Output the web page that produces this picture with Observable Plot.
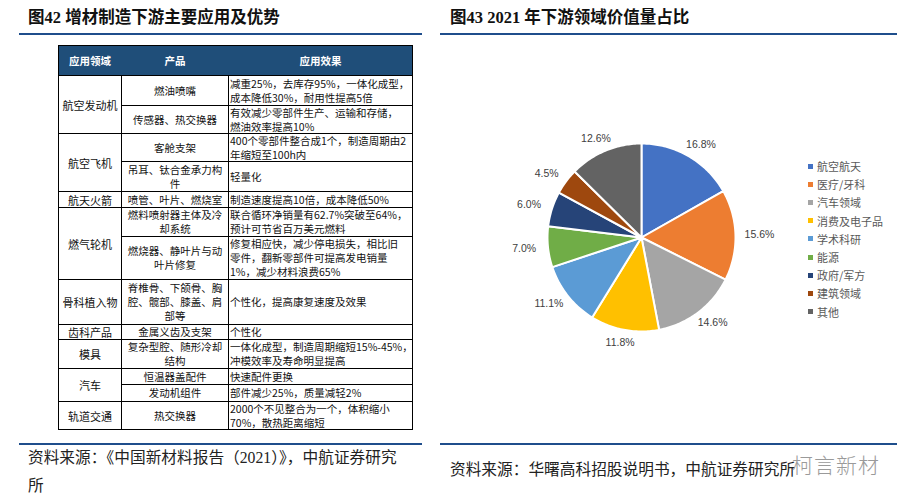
<!DOCTYPE html>
<html>
<head>
<meta charset="utf-8">
<script src="https://cdn.jsdelivr.net/npm/d3@7"></script>
<script src="https://cdn.jsdelivr.net/npm/@observablehq/plot@0.6"></script>
<style>
  html, body { margin: 0; padding: 0; background: #fff; }
  #page { position: relative; width: 907px; height: 503px; overflow: hidden; font-family: "Noto Sans CJK SC", sans-serif; }
  .title { position: absolute; top: 4px; font-family: "Liberation Serif", "Noto Sans CJK SC", serif; font-weight: bold; font-size: 16.5px; color: #111; white-space: nowrap; }
  .rule { position: absolute; height: 1.5px; background: #1f4e8c; }
  .source { position: absolute; font-family: "Liberation Serif", "Noto Sans CJK SC", serif; font-size: 15.7px; color: #222; line-height: 28px; white-space: nowrap; }
  .cell { position: absolute; box-sizing: border-box; border: 1px solid #000; display: flex; align-items: center; font-size: 10.5px; line-height: 14px; color: #111; white-space: pre; padding: 0 1px; overflow: visible; }
  .c { justify-content: center; text-align: center; }
  .l { justify-content: flex-start; text-align: left; }
  .hd { background: #1f4e79; color: #fff; font-weight: bold; border-color: #1f4e79; justify-content: center; border-right-color: #fff; }
  #legend { position: absolute; left: 808px; top: 157px; font-size: 11px; color: #595959; }
  #legend .item { height: 18.2px; display: flex; align-items: center; }
  #legend .sw { width: 5px; height: 5px; margin-right: 4px; }
  #wm { position: absolute; left: 792px; top: 449px; font-size: 21px; color: #9a9a9a; font-weight: 300; letter-spacing: 1px; }
  #plot { position: absolute; left: 450px; top: 40px; }
</style>
</head>
<body>
<div id="page"></div>
<script>
// ---------- data: table ----------
const tableHeaders = ["应用领域", "产品", "应用效果"];
const domains = ["航空发动机", "航空飞机", "航天火箭", "燃气轮机", "骨科植入物", "齿科产品", "模具", "汽车", "轨道交通"];
const domainRowSpans = [2, 2, 1, 2, 1, 1, 1, 2, 1];
const products = [
  "燃油喷嘴", "传感器、热交换器", "客舱支架", "吊耳、钛合金承力构\n件", "喷管、叶片、燃烧室",
  "燃料喷射器主体及冷\n却系统", "燃烧器、静叶片与动\n叶片修复", "脊椎骨、下颌骨、胸\n腔、髋部、膝盖、肩\n部等",
  "金属义齿及支架", "复杂型腔、随形冷却\n结构", "恒温器盖配件", "发动机组件", "热交换器"
];
const effects = [
  "减重25%，去库存95%，一体化成型，\n成本降低30%，耐用性提高5倍",
  "有效减少零部件生产、运输和存储，\n燃油效率提高10%",
  "400个零部件整合成1个，制造周期由2\n年缩短至100h内",
  "轻量化",
  "制造速度提高10倍，成本降低50%",
  "联合循环净销量有62.7%突破至64%，\n预计可节省百万美元燃料",
  "修复相应快，减少停电损失，相比旧\n零件，翻新零部件可提高发电销量\n1%，减少材料浪费65%",
  "个性化，提高康复速度及效果",
  "个性化",
  "一体化成型，制造周期缩短15%-45%，\n冲模效率及寿命明显提高",
  "快速配件更换",
  "部件减少25%，质量减轻2%",
  "2000个不见整合为一个，体积缩小\n70%，散热距离缩短"
];

// ---------- data: pie ----------
const categories = ["航空航天", "医疗/牙科", "汽车领域", "消费及电子品", "学术科研", "能源", "政府/军方", "建筑领域", "其他"];
const shares = [16.8, 15.6, 14.6, 11.8, 11.1, 7.0, 6.0, 4.5, 12.6];
const sliceColors = ["#4472c4", "#ed7d31", "#a5a5a5", "#ffc000", "#5b9bd5", "#70ad47", "#264478", "#9e480e", "#636363"];

// ---------- text ----------
const title42 = "图42  增材制造下游主要应用及优势";
const title43 = "图43  2021 年下游领域价值量占比";
const source42 = ["资料来源：《中国新材料报告（2021）》，中航证券研究", "所"];
const source43 = "资料来源：华曙高科招股说明书，中航证券研究所";
const watermark = "柯言新材";

const page = document.getElementById("page");
function add(tag, cls, style, text) {
  const el = document.createElement(tag);
  if (cls) el.className = cls;
  Object.assign(el.style, style);
  if (text != null) el.textContent = text;
  page.appendChild(el);
  return el;
}

// titles and rules
add("div", "title", {left: "28px"}, title42);
add("div", "title", {left: "450px"}, title43);
add("div", "rule", {left: "19px", top: "33px", width: "403px"});
add("div", "rule", {left: "440px", top: "33px", width: "457px"});
add("div", "rule", {left: "19px", top: "443px", width: "403px"});
add("div", "rule", {left: "440px", top: "443px", width: "457px"});
const s42 = add("div", "source", {left: "28px", top: "444px"});
s42.innerHTML = source42.join("<br>");
add("div", "source", {left: "450px", top: "456px"}, source43);
add("div", null, {}, watermark).id = "wm";

// ---------- table layout ----------
const colX = [58, 121, 228, 412];
const headerTop = 45, headerH = 30;
const rowH = [30, 28, 28, 30, 16, 29, 43, 45, 15, 29, 16, 17, 28];
const rowY = [headerTop + headerH];
rowH.forEach((h, i) => rowY.push(rowY[i] + h));

tableHeaders.forEach((t, c) => {
  add("div", "cell hd", {left: colX[c] + "px", top: headerTop + "px", width: (colX[c + 1] - colX[c] + 1) + "px", height: (headerH + 1) + "px"}, t);
});
let r = 0;
domains.forEach((d, i) => {
  const span = domainRowSpans[i];
  add("div", "cell c", {left: colX[0] + "px", top: rowY[r] + "px", width: (colX[1] - colX[0] + 1) + "px", height: (rowY[r + span] - rowY[r] + 1) + "px", fontSize: "11px"}, d);
  r += span;
});
products.forEach((p, i) => {
  add("div", "cell c", {left: colX[1] + "px", top: rowY[i] + "px", width: (colX[2] - colX[1] + 1) + "px", height: (rowY[i + 1] - rowY[i] + 1) + "px"}, p);
});
effects.forEach((e, i) => {
  add("div", "cell l", {left: colX[2] + "px", top: rowY[i] + "px", width: (colX[3] - colX[2] + 1) + "px", height: (rowY[i + 1] - rowY[i] + 1) + "px"}, e);
});
// outer border
add("div", null, {position: "absolute", left: colX[0] + "px", top: headerTop + "px", width: (colX[3] - colX[0] + 1) + "px", height: (rowY[rowY.length - 1] - headerTop + 1) + "px", border: "1.5px solid #000", boxSizing: "border-box", pointerEvents: "none"});

// ---------- pie with Plot ----------
const R = 94; // px per unit radius
const W = 457, H = 400, cx = 191, cy = 197;
const total = d3.sum(shares);
const slicePts = [];
const labelData = [];
let acc = 0;
shares.forEach((v, i) => {
  const a0 = acc / total * 2 * Math.PI;
  acc += v;
  const a1 = acc / total * 2 * Math.PI;
  const n = Math.max(2, Math.ceil((a1 - a0) / (Math.PI / 180)));
  slicePts.push({key: categories[i], x: 0, y: 0});
  for (let k = 0; k <= n; k++) {
    const a = a0 + (a1 - a0) * k / n;
    slicePts.push({key: categories[i], x: Math.sin(a), y: Math.cos(a)});
  }
  slicePts.push({key: categories[i], x: 0, y: 0});
  const am = (a0 + a1) / 2;
  labelData.push({
    x: Math.sin(am) * (R + 24) / R,
    y: Math.cos(am) * (R + 13) / R,
    label: v.toFixed(1) + "%"
  });
});

const chart = Plot.plot({
  width: W,
  height: H,
  margin: 0,
  x: {domain: [-cx / R, (W - cx) / R], axis: null},
  y: {domain: [-(H - cy) / R, cy / R], axis: null},
  color: {domain: categories, range: sliceColors},
  style: {background: "transparent", fontFamily: "Liberation Sans, Arial, sans-serif"},
  marks: [
    Plot.line(slicePts, {x: "x", y: "y", z: "key", fill: "key", stroke: "#fff", strokeWidth: 2, strokeLinejoin: "round"}),
    Plot.text(labelData, {x: "x", y: "y", text: "label", fontSize: 10.5, fill: "#404040"})
  ]
});
chart.id = "plot";
page.appendChild(chart);

// legend
const legend = document.createElement("div");
legend.id = "legend";
categories.forEach((c, i) => {
  const it = document.createElement("div");
  it.className = "item";
  const sw = document.createElement("span");
  sw.className = "sw";
  sw.style.background = sliceColors[i];
  const tx = document.createElement("span");
  tx.textContent = c;
  it.appendChild(sw); it.appendChild(tx);
  legend.appendChild(it);
});
page.appendChild(legend);
</script>
</body>
</html>
